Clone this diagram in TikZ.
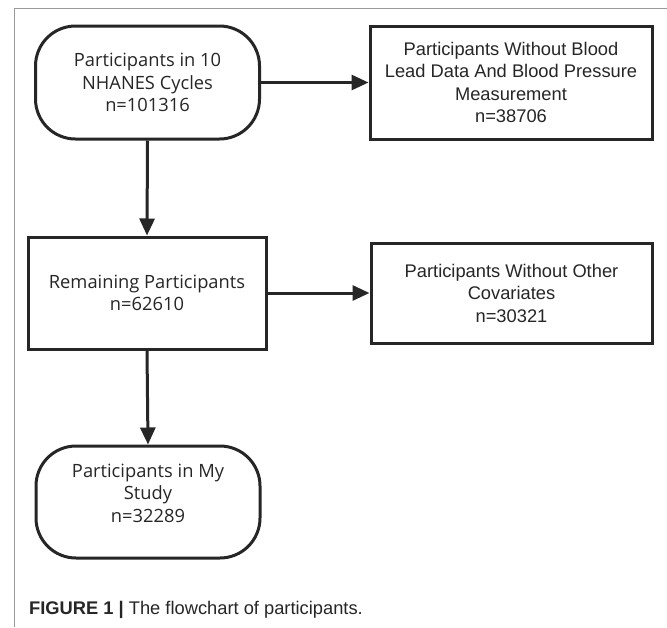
\documentclass[tikz,border=0pt]{standalone}
\usepackage{fontspec}
\setmainfont{Liberation Sans}
\newfontfamily\segoe{Open Sans}
\usetikzlibrary{arrows.meta}
\definecolor{ink}{HTML}{262626}
\definecolor{framegray}{HTML}{9A9A9A}
\begin{document}
\begin{tikzpicture}[x=1pt,y=-1pt,
  basebox/.style={draw=ink, line width=3pt, align=center, inner sep=0pt, text=ink},
  roundbox/.style={basebox, rounded corners=40pt, font=\segoe\fontsize{18.3}{22.5}\selectfont},
  rectsegoe/.style={basebox, font=\segoe\fontsize{18.3}{22.5}\selectfont},
  rectarial/.style={basebox, font=\fontsize{18.3}{22.5}\selectfont},
  flow/.style={draw=ink, line width=3pt, -{Triangle[length=17pt,width=15pt]}}
]
\useasboundingbox (0,0) rectangle (667,627);
\fill[white] (0,0) rectangle (667,627);
\draw[framegray, line width=1pt] (14,627) -- (14,8) -- (667,8);

\node[roundbox, minimum width=224, minimum height=113] (A) at (147.5,82.5)
  {Participants in 10\\NHANES Cycles\\n=101316};
\node[rectarial, minimum width=282, minimum height=113] (B) at (511,82.5)
  {Participants Without Blood\\Lead Data And Blood Pressure\\Measurement\\n=38706};
\node[rectsegoe, minimum width=238, minimum height=112] (C) at (147,293)
  {Remaining Participants\\n=62610};
\node[rectarial, minimum width=281, minimum height=100] (D) at (511.5,293)
  {Participants Without Other\\Covariates\\n=30321};
\node[roundbox, minimum width=224, minimum height=112] (E) at (148,502) {};
\node[align=center, inner sep=0pt, text=ink, font=\segoe\fontsize{18.3}{22.5}\selectfont] (Etext) at (148,493)
  {Participants in My\\Study\\n=32289};

\draw[flow] (A.east) -- (B.west);
\draw[flow] (A.south) -- (C.north);
\draw[flow] (C.east) -- (D.west);
\draw[flow] (C.south) -- (E.north);

\node[anchor=base west, inner sep=0pt, text=ink, font=\fontsize{18.3}{20}\selectfont] (cap) at (29,614)
  {\textbf{FIGURE 1 |} The flowchart of participants.};
\end{tikzpicture}
\end{document}
